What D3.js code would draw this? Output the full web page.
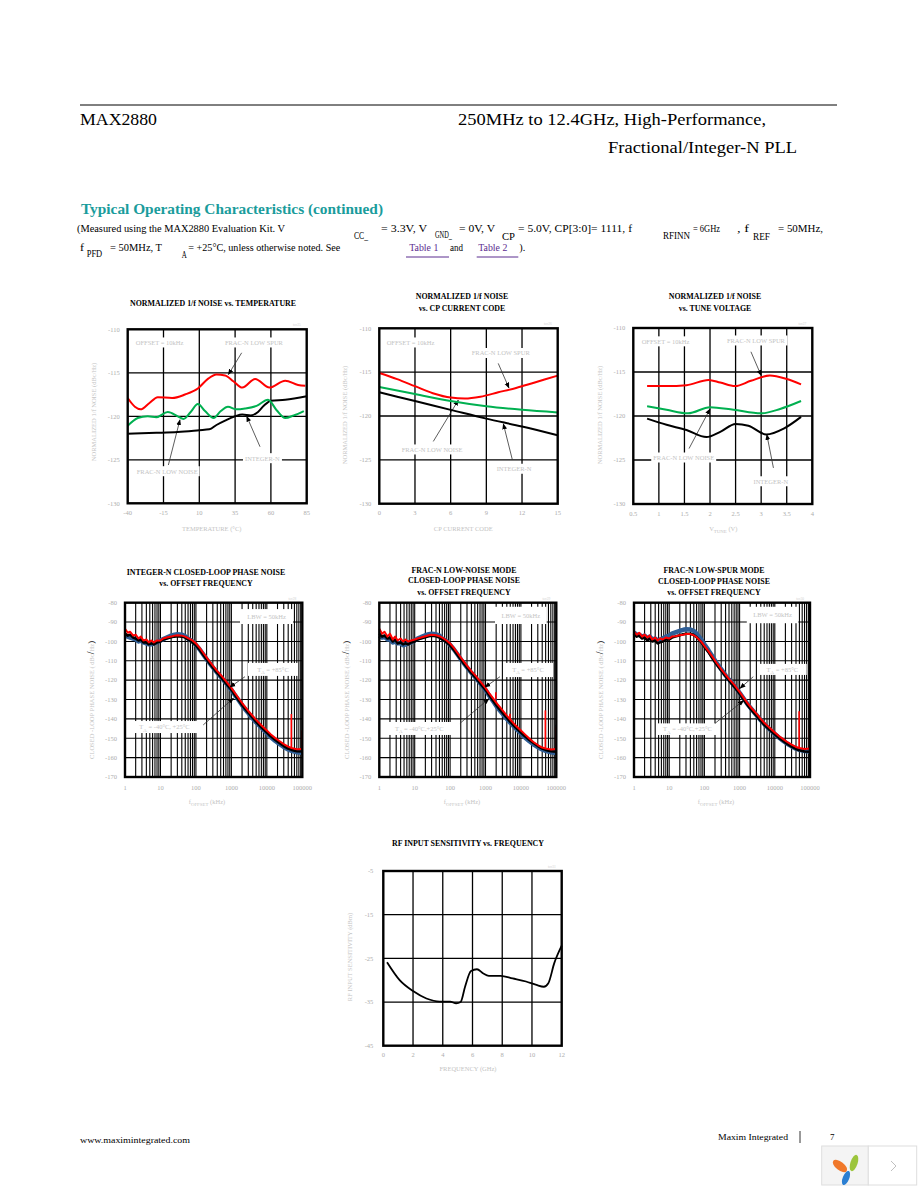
<!DOCTYPE html>
<html>
<head>
<meta charset="utf-8">
<script src="https://cdn.jsdelivr.net/npm/d3@7"></script>
<style>
  body { margin: 0; background: #fff; }
  svg { display: block; font-family: "Liberation Serif", "Times New Roman", serif; }
</style>
</head>
<body>
<script>
// ---------- data ----------
// 1/f noise vs temperature (°C, dBc/Hz)
const tempTicks = [-40, -15, 10, 35, 60, 85];
const noiseTicks = [-130, -125, -120, -115, -110];
const tempFracSpur = [[-40, -117.9], [-35, -118.9], [-31, -119.2], [-25, -118.5], [-19, -117.8], [-9, -117.9], [0, -117.5], [9, -116.8], [16, -115.7], [22, -115.2], [28, -115.3], [34, -116.0], [40, -116.7], [49, -115.7], [59, -116.7], [70, -115.9], [79, -116.4], [84, -116.5]];
const tempFracNoise = [[-40, -121.1], [-33, -120.2], [-26, -120.0], [-20, -120.1], [-12, -119.5], [-5, -120.0], [-1, -120.3], [4, -119.5], [9, -118.6], [14, -119.4], [20, -120.2], [25, -119.4], [30, -118.9], [36, -119.2], [42, -119.1], [50, -118.8], [58, -118.1], [64, -119.3], [70, -120.2], [76, -119.9], [83, -119.4]];
const tempIntegerN = [[-40, -122.0], [-20, -121.9], [-5, -121.8], [10, -121.6], [17, -121.5], [22, -121.0], [28, -120.5], [35, -120.0], [40, -119.8], [46, -119.9], [51, -119.5], [55, -118.8], [60, -118.2], [70, -118.1], [85, -117.7]];

// 1/f noise vs CP current code
const cpTicks = [0, 3, 6, 9, 12, 15];
const cpFracSpur = [[0, -115.1], [1.5, -115.8], [3, -116.6], [4.5, -117.4], [6, -117.9], [7.2, -118.0], [8.5, -117.8], [10, -117.3], [11.5, -116.8], [13, -116.2], [15, -115.4]];
const cpFracNoise = [[0, -116.7], [3, -117.5], [6, -118.3], [9, -118.9], [12, -119.3], [15, -119.6]];
const cpIntegerN = [[0, -117.3], [3, -118.3], [6, -119.3], [9, -120.3], [12, -121.2], [15, -122.2]];

// 1/f noise vs tune voltage (V)
const vtuneTicks = [0.5, 1, 1.5, 2, 2.5, 3, 3.5, 4];
const vtFracSpur = [[0.77, -116.6], [1.15, -116.6], [1.54, -116.5], [1.97, -115.9], [2.2, -116.2], [2.49, -116.6], [2.8, -116.0], [3.17, -115.4], [3.5, -115.8], [3.78, -116.4]];
const vtFracNoise = [[0.77, -118.9], [1.15, -119.3], [1.57, -119.7], [2.0, -119.0], [2.46, -119.3], [3.0, -119.7], [3.37, -119.2], [3.78, -118.3]];
const vtIntegerN = [[0.77, -120.3], [1.15, -121.0], [1.54, -121.6], [1.93, -122.4], [2.2, -121.8], [2.5, -120.9], [2.75, -121.1], [3.1, -122.1], [3.45, -121.4], [3.78, -120.1]];

// closed-loop phase noise (kHz offset, dBc/Hz)
const pnDecades = [1, 10, 100, 1000, 10000, 100000];
const pnDecadeLabels = ["1", "10", "100", "1000", "10000", "100000"];
const pnLevels = [-170, -160, -150, -140, -130, -120, -110, -100, -90, -80];
const pnFreq = [1, 1.2, 1.4, 1.7, 2, 2.4, 2.8, 3.3, 4, 4.7, 5.5, 6.5, 8, 10, 12, 15, 20, 25, 30, 40, 50, 60, 80, 100, 130, 170, 220, 300, 400, 500, 700, 1000, 1300, 1700, 2200, 3000, 4000, 5000, 7000, 10000, 13000, 17000, 22000, 30000, 40000, 50000, 70000, 100000];

const intRed = [-93.5, -95.5, -95, -97, -96.5, -98.5, -97.5, -99.5, -99, -100.5, -99.5, -100.5, -99.5, -99.5, -98.5, -98, -97.5, -97, -96.8, -97, -97.5, -98.3, -99.5, -101, -103.5, -106.5, -109.3, -112.5, -115.3, -117.3, -120.5, -124, -127, -130, -132.8, -135.8, -138.5, -140.5, -143.3, -146, -148, -149.8, -151.3, -153, -154.3, -155, -155.7, -155.5];
const intBlack = [-96, -97, -96.5, -98, -98.5, -99.5, -99, -100.5, -100.5, -101.5, -101, -101.5, -100.5, -100, -99, -98.5, -97.8, -97.5, -97.3, -97.5, -98, -99, -100.5, -102, -104.5, -107.5, -110.3, -113.5, -116.3, -118.3, -121.5, -125, -128, -131, -133.8, -136.8, -139.5, -141.5, -144.3, -147, -149, -150.8, -152.3, -154, -155.3, -156, -156.7, -156.8];
const intBlue = [-97, -97.5, -98, -98.5, -99, -100, -99.5, -100.5, -101, -101.5, -101.5, -101, -100.5, -99.5, -98.8, -98, -97, -96.5, -96.3, -96.5, -97.3, -98.5, -100, -101.8, -104.3, -107.3, -110.2, -113.4, -116.2, -118.3, -121.5, -125, -128, -131, -134, -137, -139.8, -141.8, -144.5, -147.3, -149.5, -151.3, -152.8, -154.5, -155.8, -156.5, -157.2, -157.5];
const intRedSpurs = [[50000, -155, -137.5], [100000, -155.5, -146]];
const intBlueSpurs = [];

const fnRed = [-93.5, -96, -95, -97.5, -96, -99, -97.5, -99.5, -98.5, -100, -99, -100, -99.5, -99, -98.5, -98, -97.3, -96.8, -96.5, -96.8, -97.3, -98, -99.5, -101, -103.5, -106.5, -109.3, -112.5, -115.3, -117.3, -120.5, -124, -127, -129.8, -132.5, -135.5, -138.3, -140.3, -143.3, -146, -148, -150, -151.8, -153.5, -154.8, -155.3, -155.8, -155.5];
const fnBlack = [-96, -97.5, -97, -98.5, -98, -100, -99, -101, -100.5, -101.5, -101, -101.5, -100.5, -100, -99, -98.5, -97.8, -97.3, -97, -97.3, -98, -99, -100.5, -102, -104.5, -107.5, -110.3, -113.5, -116.3, -118.3, -121.5, -125, -128, -131, -133.8, -136.8, -139.5, -141.5, -144.3, -147, -149, -150.8, -152.3, -154, -155.3, -156, -156.7, -157];
const fnBlue = [-97, -98, -97.5, -99, -99, -100.5, -100, -101, -101, -102, -101.5, -101, -100.5, -99.5, -98.5, -97.8, -96.8, -96.3, -96, -96.3, -97, -98.5, -100, -101.8, -104.3, -107.3, -110.2, -113.4, -116.2, -118.3, -121.5, -125, -128.3, -131.3, -134.3, -137.3, -140, -142, -144.8, -147.5, -149.6, -151.4, -153, -154.6, -155.8, -156.5, -157.2, -157.6];
const fnRedSpurs = [[2000, -129.8, -126.3], [5000, -140.3, -137.3], [50000, -155.3, -135.6], [100000, -155.5, -144]];
const fnBlueSpurs = [[2000, -131, -127.5], [100000, -157.6, -143]];

const lsRed = [-95, -96.5, -95.5, -97.5, -96.5, -98, -97, -99, -98, -99.5, -98.5, -99, -98, -98.5, -97.5, -97.3, -96.8, -96.5, -96.2, -96.2, -96.8, -97.8, -100, -102.3, -105, -108, -111, -114.3, -117.2, -119.3, -122.3, -126, -129, -132, -134.5, -137.3, -140, -142, -144.5, -147, -148.8, -150.3, -151.8, -153.3, -154.5, -155, -155.5, -155.3];
const lsBlack = [-96.5, -97.5, -97, -98.5, -98, -99.5, -98.5, -100, -99.5, -101, -100.5, -100, -99, -99, -98, -97.5, -96.8, -96.3, -96, -96, -96.7, -97.8, -100.3, -102.8, -105.5, -108.8, -111.8, -115, -118, -120.2, -123.3, -127, -130, -133, -135.5, -138.3, -141, -143, -145.5, -148, -149.8, -151.3, -152.8, -154.3, -155.5, -156.2, -156.8, -157];
const lsBlue = [-95.5, -96.5, -96.5, -97.5, -97, -98.5, -97.5, -99, -98.5, -99.5, -99, -98.5, -97.5, -97, -96, -95.3, -94.5, -94, -93.7, -93.8, -94.6, -96, -98.8, -101.5, -104.5, -107.8, -111, -114.3, -117.5, -119.7, -122.8, -126.5, -129.5, -132.5, -135, -138, -140.7, -142.7, -145.3, -147.8, -149.6, -151.2, -152.7, -154.2, -155.4, -156, -156.6, -156.8];
const lsRedSpurs = [[50000, -155, -136], [100000, -155.3, -145]];
const lsBlueSpurs = [];

// RF input sensitivity vs frequency (GHz, dBm)
const sensTicksX = [0, 2, 4, 6, 8, 10, 12];
const sensTicksY = [-45, -35, -25, -15, -5];
const sensFreq = [0.25, 1.1, 2.0, 2.9, 3.8, 4.5, 4.9, 5.2, 5.5, 5.9, 6.3, 6.7, 7.1, 7.9, 8.7, 9.6, 10.3, 10.8, 11.1, 11.5, 12];
const sensLevel = [-25.9, -30, -32.5, -34.2, -34.9, -34.9, -35.3, -35.0, -31.5, -27.9, -27.5, -28.4, -29.0, -29.0, -29.6, -30.3, -31.1, -31.5, -30.7, -26.1, -22.1];

// ---------- drawing ----------
const GRAY_TEXT = "#c4c4c4";
const TICK_TEXT = "#adadad";
const RED = "#ff0000";
const GREEN = "#00b050";
const BLUE = "#2f5e96";

const svg = d3.select("body").append("svg")
  .attr("width", 918).attr("height", 1188).attr("viewBox", "0 0 918 1188");

svg.append("defs").append("marker")
  .attr("id", "arrowhead")
  .attr("viewBox", "0 0 10 10")
  .attr("refX", 9).attr("refY", 5)
  .attr("markerWidth", 6).attr("markerHeight", 6)
  .attr("markerUnits", "userSpaceOnUse")
  .attr("orient", "auto")
  .append("path").attr("d", "M0,1L10,5L0,9Z").attr("fill", "#000");

// text with optional subscript parts: [{t, sub, fill, size}]
function addText(parent, x, y, parts, opts = {}) {
  const size = opts.size || 6.5;
  const text = parent.append("text")
    .attr("x", x).attr("y", y)
    .attr("font-size", size)
    .attr("fill", opts.fill || GRAY_TEXT)
    .attr("text-anchor", opts.anchor || "start");
  if (opts.weight) text.attr("font-weight", opts.weight);
  if (opts.rotate) text.attr("transform", `rotate(-90 ${x} ${y})`);
  if (opts.width) text.attr("textLength", opts.width).attr("lengthAdjust", "spacingAndGlyphs");
  let offset = 0;
  (typeof parts === "string" ? [{ t: parts }] : parts).forEach((part) => {
    const target = part.sub ? size * 0.35 : 0;
    const span = text.append("tspan").attr("dy", target - offset).text(part.t);
    offset = target;
    if (part.sub) span.attr("font-size", size * 0.75);
    if (part.size) span.attr("font-size", part.size);
    if (part.fill) span.attr("fill", part.fill);
  });
  return text;
}

function drawTitle(g, title) {
  title.lines.forEach((line, i) => {
    addText(g, title.x, title.ys[i], line, { size: 7.9, weight: "bold", fill: "#000", anchor: "middle" });
  });
}

function drawArrows(g, arrows, x, y) {
  arrows.forEach((a) => {
    g.append("line")
      .attr("x1", x(a[0][0])).attr("y1", y(a[0][1]))
      .attr("x2", x(a[1][0])).attr("y2", y(a[1][1]))
      .attr("stroke", "#333").attr("stroke-width", 0.8)
      .attr("marker-end", "url(#arrowhead)");
  });
}

function drawLinearChart(cfg) {
  const g = svg.append("g");
  const [left, right, top, bottom] = cfg.box;
  const x = d3.scaleLinear().domain(cfg.xDomain).range([left, right]);
  const y = d3.scaleLinear().domain(cfg.yDomain).range([bottom, top]);

  g.selectAll("line.vgrid").data(cfg.xTicks.slice(1, -1)).join("line")
    .attr("x1", (d) => x(d)).attr("x2", (d) => x(d)).attr("y1", top).attr("y2", bottom)
    .attr("stroke", "#000").attr("stroke-width", 1.3);
  g.selectAll("line.hgrid").data(cfg.yTicks.slice(1, -1)).join("line")
    .attr("y1", (d) => y(d)).attr("y2", (d) => y(d)).attr("x1", left).attr("x2", right)
    .attr("stroke", "#000").attr("stroke-width", 1.3);

  cfg.notes.forEach((note) => {
    const text = addText(g, x(note.x), y(note.y), note.parts, { size: 6.5 });
    const box = text.node().getBBox();
    g.insert("rect", () => text.node())
      .attr("x", box.x - 2).attr("y", box.y - 1.5)
      .attr("width", box.width + 4).attr("height", box.height + 3)
      .attr("fill", "#fff");
  });

  drawArrows(g, cfg.arrows || [], x, y);

  const line = d3.line().x((d) => x(d[0])).y((d) => y(d[1])).curve(d3.curveMonotoneX);
  cfg.series.forEach((s) => {
    g.append("path").datum(s.values).attr("d", line)
      .attr("fill", "none").attr("stroke", s.color).attr("stroke-width", s.width || 2);
  });

  g.append("rect").attr("x", left).attr("y", top)
    .attr("width", right - left).attr("height", bottom - top)
    .attr("fill", "none").attr("stroke", "#000").attr("stroke-width", 2.4);

  cfg.yTicks.forEach((v) => addText(g, left - cfg.yLabelGap, y(v) + 2.3, String(v), { fill: TICK_TEXT, anchor: "end" }));
  cfg.xTicks.forEach((v) => addText(g, x(v), bottom + 11.5, String(v), { fill: TICK_TEXT, anchor: "middle" }));

  addText(g, right - 6, top - 3, cfg.tag, { size: 3.5, fill: "#d0d0d0", anchor: "end" });
  drawTitle(g, cfg.title);
  addText(g, cfg.xLabel.x, cfg.xLabel.y, cfg.xLabel.parts, { anchor: "middle", size: 6.5 });
  addText(g, cfg.yLabel.x, cfg.yLabel.y, cfg.yLabel.parts, { anchor: "middle", size: 6.5, rotate: true });
}

function drawPhaseChart(cfg) {
  const g = svg.append("g");
  const [left, right, top, bottom] = cfg.box;
  const x = d3.scaleLog().domain([1, 100000]).range([left, right]);
  const y = d3.scaleLinear().domain([-170, -80]).range([bottom, top]);

  g.selectAll("line.vgrid").data(x.ticks().filter((d) => d > 1 && d < 100000)).join("line")
    .attr("x1", (d) => x(d)).attr("x2", (d) => x(d)).attr("y1", top).attr("y2", bottom)
    .attr("stroke", "#000").attr("stroke-width", 1.1);
  g.selectAll("line.hgrid").data(pnLevels.slice(1, -1)).join("line")
    .attr("y1", (d) => y(d)).attr("y2", (d) => y(d)).attr("x1", left).attr("x2", right)
    .attr("stroke", "#000").attr("stroke-width", 1.1);

  cfg.notes.forEach((note) => {
    const bx0 = x(note.box[0]);
    const bx1 = x(note.box[1]);
    const by0 = y(note.box[2]);
    const by1 = y(note.box[3]);
    g.append("rect").attr("x", bx0).attr("y", by0)
      .attr("width", bx1 - bx0).attr("height", by1 - by0).attr("fill", "#fff");
    addText(g, (bx0 + bx1) / 2, (by0 + by1) / 2 + 2.2, note.parts, { anchor: "middle", size: 6.5 });
  });

  const line = d3.line().x((d) => x(d[0])).y((d) => y(d[1]));
  const drawSeries = (values, spurs, color, width) => {
    g.append("path").datum(d3.zip(pnFreq, values)).attr("d", line)
      .attr("fill", "none").attr("stroke", color).attr("stroke-width", width)
      .attr("stroke-linejoin", "round");
    spurs.forEach((s) => {
      g.append("line")
        .attr("x1", x(s[0]) - 0.3).attr("x2", x(s[0]) - 0.3)
        .attr("y1", y(s[1])).attr("y2", y(s[2]))
        .attr("stroke", color).attr("stroke-width", 1.6);
    });
  };
  drawSeries(cfg.blue, cfg.blueSpurs, BLUE, 4.5);
  drawSeries(cfg.black, [], "#000", 2.6);
  drawSeries(cfg.red, cfg.redSpurs, RED, 2);

  drawArrows(g, cfg.arrows, x, y);

  g.append("rect").attr("x", left).attr("y", top)
    .attr("width", right - left).attr("height", bottom - top)
    .attr("fill", "none").attr("stroke", "#000").attr("stroke-width", 2.4);

  pnLevels.forEach((v) => addText(g, left - 8, y(v) + 2.3, String(v), { fill: TICK_TEXT, anchor: "end" }));
  pnDecades.forEach((v, i) => addText(g, x(v), bottom + 13, pnDecadeLabels[i], { fill: TICK_TEXT, anchor: "middle" }));

  addText(g, right - 6, top - 3, cfg.tag, { size: 3.5, fill: "#d0d0d0", anchor: "end" });
  drawTitle(g, cfg.title);
  addText(g, cfg.xLabelX, bottom + 27, [{ t: "f" }, { t: "OFFSET", sub: true }, { t: "  (kHz)" }], { anchor: "middle", size: 6.5 });
  addText(g, cfg.yLabelX, (top + bottom) / 2 + 10, [
    { t: "CLOSED -LOOP PHASE NOISE ( dBc" },
    { t: "/", fill: "#000", size: 10 },
    { t: "Hz" },
    { t: ")", fill: "#000", size: 9 },
  ], { anchor: "middle", size: 6.5, rotate: true });
}

// ---------- page header ----------
svg.append("line").attr("x1", 80).attr("x2", 837).attr("y1", 105).attr("y2", 105)
  .attr("stroke", "#000").attr("stroke-width", 1);
addText(svg, 80, 125, "MAX2880", { size: 17, fill: "#000", width: 77 });
addText(svg, 458, 125, "250MHz to 12.4GHz, High-Performance,", { size: 17, fill: "#000", width: 308 });
addText(svg, 608, 153, "Fractional/Integer-N PLL", { size: 17, fill: "#000", width: 189 });
addText(svg, 81, 214, "Typical Operating Characteristics (continued)", { size: 14.5, weight: "bold", fill: "#1a9c9c", width: 302 });

const conditionSegments = [
  { x: 77, y: 232, t: "(Measured using the MAX2880 Evaluation Kit. V", w: 208 },
  { x: 354, y: 238.5, t: "CC_", w: 14 },
  { x: 381, y: 232, t: "= 3.3V, V", w: 46 },
  { x: 435, y: 238, t: "GND_", w: 17 },
  { x: 459, y: 232, t: "= 0V, V", w: 36 },
  { x: 502, y: 240, t: "CP", w: 13 },
  { x: 518, y: 232, t: "= 5.0V, CP[3:0]= 1111, f", w: 114 },
  { x: 663, y: 239, t: "RFINN", w: 27 },
  { x: 693, y: 232, t: "= 6GHz", w: 27 },
  { x: 737, y: 232, t: ", f", w: 12 },
  { x: 753, y: 240, t: "REF", w: 17 },
  { x: 778, y: 232, t: "= 50MHz,", w: 45 },
  { x: 80, y: 250.5, t: "f", w: 4 },
  { x: 86.7, y: 257, t: "PFD", w: 15.5 },
  { x: 110, y: 250.5, t: "= 50MHz, T", w: 52 },
  { x: 181.7, y: 258, t: "A", w: 5 },
  { x: 188.3, y: 250.5, t: "= +25°C, unless otherwise noted. See", w: 152 },
  { x: 409.3, y: 250.5, t: "Table 1", w: 29, fill: "#5b2c8f" },
  { x: 450, y: 250.5, t: "and", w: 13 },
  { x: 478.3, y: 250.5, t: "Table 2", w: 29, fill: "#5b2c8f" },
  { x: 519.3, y: 250.5, t: ").", w: 6 },
];
conditionSegments.forEach((s) => addText(svg, s.x, s.y, s.t, { size: 10, fill: s.fill || "#000", width: s.w }));
[[406, 449], [476.7, 518.3]].forEach((u) => {
  svg.append("line").attr("x1", u[0]).attr("x2", u[1]).attr("y1", 257).attr("y2", 257)
    .attr("stroke", "#5b2c8f").attr("stroke-width", 1);
});

// ---------- charts ----------
drawLinearChart({
  box: [127.7, 306.7, 329.3, 503.3],
  xDomain: [-40, 85], yDomain: [-130, -110],
  xTicks: tempTicks, yTicks: noiseTicks, yLabelGap: 8,
  series: [
    { values: tempIntegerN, color: "#000" },
    { values: tempFracNoise, color: GREEN },
    { values: tempFracSpur, color: RED },
  ],
  notes: [
    { x: -34.4, y: -111.8, parts: "OFFSET = 10kHz" },
    { x: 27.9, y: -111.8, parts: "FRAC-N LOW SPUR" },
    { x: -33.7, y: -126.6, parts: "FRAC-N LOW NOISE" },
    { x: 41.9, y: -125.1, parts: "INTEGER-N" },
  ],
  arrows: [
    [[39.6, -112.7], [30.3, -115.2]],
    [[-11.6, -125.6], [-3.5, -120.4]],
    [[52.4, -123.5], [43.1, -120.0]],
  ],
  tag: "toc25",
  title: { x: 213, ys: [305.5], lines: ["NORMALIZED 1/f NOISE vs. TEMPERATURE"] },
  xLabel: { x: 211.7, y: 530.5, parts: "TEMPERATURE (°C)" },
  yLabel: { x: 96, y: 412, parts: "NORMALIZED 1/f NOISE (dBc/Hz)" },
});

drawLinearChart({
  box: [379.3, 557.7, 328.3, 503.7],
  xDomain: [0, 15], yDomain: [-130, -110],
  xTicks: cpTicks, yTicks: noiseTicks, yLabelGap: 8,
  series: [
    { values: cpIntegerN, color: "#000" },
    { values: cpFracNoise, color: GREEN },
    { values: cpFracSpur, color: RED },
  ],
  notes: [
    { x: 0.62, y: -111.9, parts: "OFFSET = 10kHz" },
    { x: 7.77, y: -113.1, parts: "FRAC-N LOW SPUR" },
    { x: 1.88, y: -124.1, parts: "FRAC-N LOW NOISE" },
    { x: 9.87, y: -126.3, parts: "INTEGER-N" },
  ],
  arrows: [
    [[10.0, -114.0], [10.9, -116.8]],
    [[4.54, -122.9], [6.64, -118.2]],
    [[11.19, -125.0], [10.43, -120.9]],
  ],
  tag: "toc26",
  title: { x: 462, ys: [299, 310.5], lines: ["NORMALIZED 1/f NOISE", "vs. CP CURRENT CODE"] },
  xLabel: { x: 463.3, y: 530.5, parts: "CP CURRENT CODE" },
  yLabel: { x: 347, y: 415, parts: "NORMALIZED 1/f NOISE (dBc/Hz)" },
});

drawLinearChart({
  box: [633.3, 812.3, 328, 504],
  xDomain: [0.5, 4], yDomain: [-130, -110],
  xTicks: vtuneTicks, yTicks: noiseTicks, yLabelGap: 8,
  series: [
    { values: vtIntegerN, color: "#000" },
    { values: vtFracNoise, color: GREEN },
    { values: vtFracSpur, color: RED },
  ],
  notes: [
    { x: 0.664, y: -111.8, parts: "OFFSET = 10kHz" },
    { x: 2.33, y: -111.7, parts: "FRAC-N LOW SPUR" },
    { x: 0.89, y: -125.0, parts: "FRAC-N LOW NOISE" },
    { x: 2.85, y: -127.7, parts: "INTEGER-N" },
  ],
  arrows: [
    [[2.80, -112.7], [3.0, -115.4]],
    [[1.59, -123.7], [2.0, -119.2]],
    [[3.24, -125.9], [3.11, -122.1]],
  ],
  tag: "toc27",
  title: { x: 715, ys: [299, 311], lines: ["NORMALIZED 1/f NOISE", "vs. TUNE VOLTAGE"] },
  xLabel: { x: 723.3, y: 530.5, parts: [{ t: "V" }, { t: "TUNE", sub: true }, { t: "  (V)" }] },
  yLabel: { x: 602, y: 415, parts: "NORMALIZED 1/f NOISE (dBc/Hz)" },
});

const taNote = (label) => [{ t: "T" }, { t: "A", sub: true }, { t: label }];

drawPhaseChart({
  box: [125, 302.3, 602.7, 777],
  blue: intBlue, black: intBlack, red: intRed,
  blueSpurs: intBlueSpurs, redSpurs: intRedSpurs,
  notes: [
    { box: [1750, 54700, -83.3, -91.0], parts: "LBW = 50kHz" },
    { box: [2940, 75700, -111.1, -117.8], parts: taNote(" = +85°C") },
    { box: [1.14, 148, -141.1, -147.3], parts: taNote(" = -40°C, +25°C") },
  ],
  arrows: [
    [[2420, -118.2], [914, -123.6]],
    [[161, -143.1], [1150, -129.3]],
  ],
  tag: "toc28",
  title: { x: 206, ys: [575, 586], lines: ["INTEGER-N CLOSED-LOOP PHASE NOISE", "vs. OFFSET FREQUENCY"] },
  xLabelX: 207, yLabelX: 94,
});

drawPhaseChart({
  box: [379.3, 556.3, 602.7, 777],
  blue: fnBlue, black: fnBlack, red: fnRed,
  blueSpurs: fnBlueSpurs, redSpurs: fnRedSpurs,
  notes: [
    { box: [1855, 53600, -82.1, -91.0], parts: "LBW = 50kHz" },
    { box: [3120, 80700, -111.1, -118.4], parts: taNote(" = +85°C") },
    { box: [1.02, 178, -141.6, -148.3], parts: taNote(" = -40°C,+25°C") },
  ],
  arrows: [
    [[2570, -118.2], [968, -123.6]],
    [[190, -142.3], [1250, -129.6]],
  ],
  tag: "toc29",
  title: { x: 464, ys: [572.5, 582.5, 594.5], lines: ["FRAC-N LOW-NOISE MODE", "CLOSED-LOOP PHASE NOISE", "vs. OFFSET FREQUENCY"] },
  xLabelX: 462, yLabelX: 349,
});

drawPhaseChart({
  box: [634, 810, 602.7, 777],
  blue: lsBlue, black: lsBlack, red: lsRed,
  blueSpurs: lsBlueSpurs, redSpurs: lsRedSpurs,
  notes: [
    { box: [1600, 46500, -82.1, -90.6], parts: "LBW = 50kHz" },
    { box: [3330, 80600, -111.6, -117.3], parts: taNote(" = +85°C") },
    { box: [4.4, 248, -142.3, -148.3], parts: taNote(" = -40°C,+25°C") },
  ],
  arrows: [
    [[2450, -118.2], [1026, -124.2]],
    [[200, -142.3], [1300, -130.5]],
  ],
  tag: "toc30",
  title: { x: 714, ys: [572.5, 583.5, 594.5], lines: ["FRAC-N LOW-SPUR MODE", "CLOSED-LOOP PHASE NOISE", "vs. OFFSET FREQUENCY"] },
  xLabelX: 716, yLabelX: 603,
});

drawLinearChart({
  box: [383.3, 561.7, 871, 1045.7],
  xDomain: [0, 12], yDomain: [-45, -5],
  xTicks: sensTicksX, yTicks: sensTicksY, yLabelGap: 10,
  series: [{ values: d3.zip(sensFreq, sensLevel), color: "#000", width: 1.8 }],
  notes: [],
  arrows: [],
  tag: "toc31",
  title: { x: 468, ys: [845.5], lines: ["RF INPUT SENSITIVITY vs. FREQUENCY"] },
  xLabel: { x: 468, y: 1071, parts: "FREQUENCY (GHz)" },
  yLabel: { x: 352, y: 957, parts: "RF INPUT SENSITIVITY (dBm)" },
});

// ---------- footer ----------
addText(svg, 80, 1143, "www.maximintegrated.com", { size: 9, fill: "#000", width: 110 });
addText(svg, 718, 1140, "Maxim Integrated", { size: 9, fill: "#000", width: 70 });
svg.append("line").attr("x1", 800).attr("x2", 800).attr("y1", 1131).attr("y2", 1143)
  .attr("stroke", "#000").attr("stroke-width", 0.8);
addText(svg, 830, 1139.5, "7", { size: 9, fill: "#000" });

const logo = svg.append("g");
logo.append("rect").attr("x", 821.7).attr("y", 1146).attr("width", 46.6).attr("height", 39)
  .attr("fill", "#f4f4f4").attr("stroke", "#dedede");
logo.append("rect").attr("x", 868.3).attr("y", 1146).attr("width", 48.4).attr("height", 39)
  .attr("fill", "#fff").attr("stroke", "#dedede");
logo.append("ellipse").attr("cx", 840).attr("cy", 1166).attr("rx", 8.5).attr("ry", 4.2)
  .attr("transform", "rotate(38 840 1166)").attr("fill", "#f0782a");
logo.append("ellipse").attr("cx", 854).attr("cy", 1163).attr("rx", 8.5).attr("ry", 3.6)
  .attr("transform", "rotate(-72 854 1163)").attr("fill", "#9cc53c");
logo.append("ellipse").attr("cx", 846).attr("cy", 1178).attr("rx", 7.5).attr("ry", 3.2)
  .attr("transform", "rotate(-68 846 1178)").attr("fill", "#2b7fd2");
logo.append("polyline").attr("points", "891,1161 896,1166 891,1171")
  .attr("fill", "none").attr("stroke", "#b0b0b0").attr("stroke-width", 0.8);
</script>
</body>
</html>
